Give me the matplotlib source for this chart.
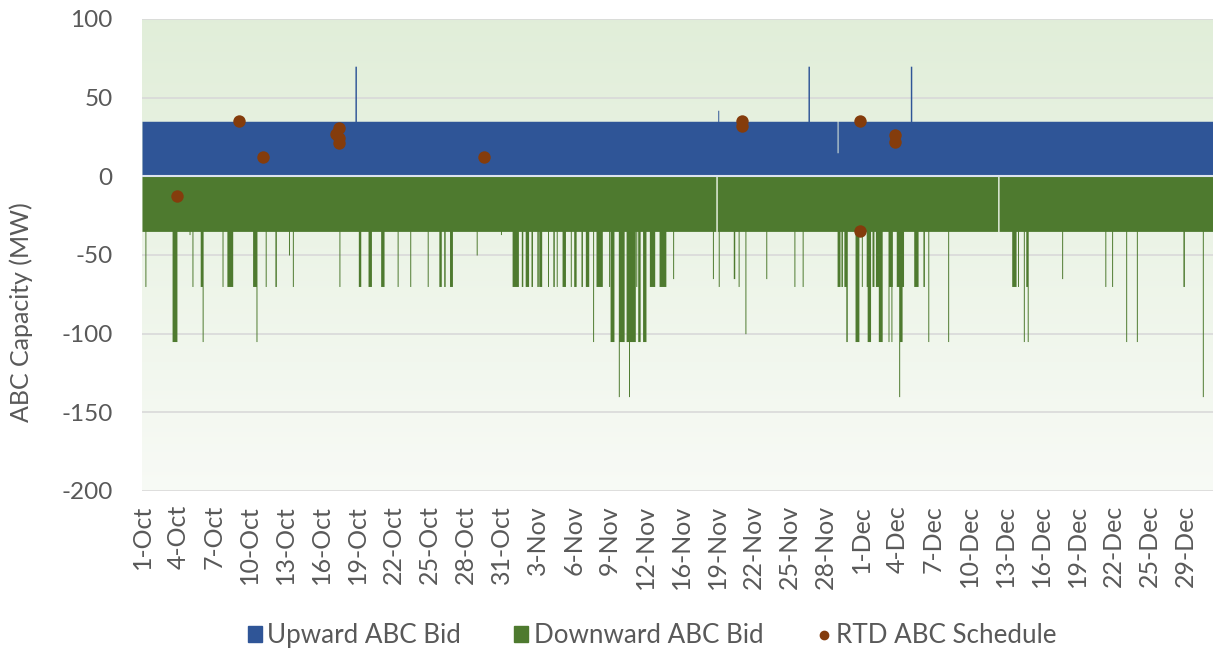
import numpy as np
import matplotlib.pyplot as plt
from matplotlib.patches import Patch
from matplotlib.lines import Line2D

plt.rcParams['font.family'] = ['Lato', 'DejaVu Sans']
plt.rcParams['axes.unicode_minus'] = False

# 数据：x 为自 10 月 1 日起的天数（小时分辨率）
N_DAYS = 92
BASE_UP = 35
BASE_DOWN = -35

tick_labels = ['1-Oct', '4-Oct', '7-Oct', '10-Oct', '13-Oct', '16-Oct', '19-Oct', '22-Oct',
               '25-Oct', '28-Oct', '31-Oct', '3-Nov', '6-Nov', '9-Nov', '12-Nov', '16-Nov',
               '19-Nov', '22-Nov', '25-Nov', '28-Nov', '1-Dec', '4-Dec', '7-Dec', '10-Dec',
               '13-Dec', '16-Dec', '19-Dec', '22-Dec', '25-Dec', '29-Dec']

# upward bid deviations from the 35 MW base
up_day = [18.3, 49.45, 57.2, 59.7, 66.0]
up_hours = [3, 2, 3, 2, 3]
up_mw = [70, 42, 70, 15, 70]

# hours with no downward bid
gap_day = [49.3, 73.5]
gap_hours = [3, 3]

# downward bid deviations from the -35 MW base
down_day = [0.26, 2.6, 4.05, 4.3, 4.98, 5.15, 6.87, 7.3, 9.5, 9.8, 10.6, 11.4, 12.57, 12.9,
            16.9, 18.6, 19.4, 20.5, 21.9, 23.0, 24.5, 25.5, 25.9, 26.4, 28.7, 30.8, 31.8,
            32.6, 32.9, 33.4, 33.9, 34.1, 34.85, 35.3, 35.6, 36.1, 36.8, 37.1, 37.7, 38.1,
            38.7, 39.0, 40.1, 40.2, 40.9, 41.0, 41.6, 41.8, 42.4, 42.6, 43.0, 43.6, 44.4,
            45.6, 49.0, 49.5, 50.8, 50.85, 51.2, 51.8, 53.6, 56.0, 56.7, 59.7, 60.05, 60.3,
            60.45, 61.25, 61.8, 62.2, 62.3, 62.7, 63.0, 63.25, 64.1, 64.1, 64.35, 64.8, 65.0,
            65.05, 66.3, 67.1, 67.5, 69.2, 74.7, 75.2, 75.7, 75.9, 76.05, 79.0, 82.7, 83.3,
            84.5, 85.4, 89.4, 91.1]
down_hours = [2, 10, 2, 2, 4, 2, 2, 12, 7, 2, 2, 3, 2, 2,
              2, 5, 7, 7, 2, 2, 2, 5, 3, 6, 2, 2, 13,
              3, 7, 3, 3, 6, 2, 3, 2, 7, 2, 5, 3, 7,
              2, 13, 2, 8, 2, 10, 19, 2, 2, 5, 7, 11, 14,
              2, 2, 2, 2, 2, 2, 2, 2, 2, 2, 6, 3, 7,
              3, 8, 2, 9, 7, 4, 14, 8, 9, 2, 2, 15, 2,
              6, 9, 3, 2, 2, 9, 2, 2, 4, 2, 2, 2, 2,
              2, 2, 3, 2]
down_mw = [-70, -105, -37, -70, -70, -105, -70, -70, -70, -105, -70, -70, -50, -70,
           -70, -70, -70, -70, -70, -70, -70, -70, -70, -70, -50, -37, -70,
           -70, -70, -70, -70, -70, -70, -70, -70, -70, -70, -70, -70, -70,
           -105, -70, -70, -105, -140, -105, -105, -140, -70, -105, -105, -70, -70,
           -65, -65, -70, -65, -65, -70, -100, -65, -70, -70, -70, -70, -70,
           -105, -105, -70, -70, -105, -70, -70, -105, -70, -105, -105, -70, -140,
           -105, -70, -70, -105, -105, -70, -70, -105, -70, -105, -65, -70, -70,
           -105, -105, -70, -140]

# RTD ABC schedule points
rtd_day = [2.98, 8.3, 10.4, 16.9, 16.67, 16.9, 16.9, 29.4, 51.5, 51.5, 61.7, 61.7, 64.7, 64.7]
rtd_mw = [-12.7, 35, 12, 31, 27, 24.5, 21.5, 12.3, 35, 32, 35, -35, 26, 22]

BLUE = '#2F5597'
GREEN = '#4E7A2F'
BROWN = '#843C0C'
TEXT = '#595959'


def hourly_series():
    """把基准值和偏差展开成逐小时序列"""
    n = N_DAYS * 24
    t = np.arange(n + 1) / 24
    up = np.full(n + 1, float(BASE_UP))
    down = np.full(n + 1, float(BASE_DOWN))
    for d, h, v in zip(up_day, up_hours, up_mw):
        i = int(round(d * 24))
        up[i:i + h] = v
    for d, h in zip(gap_day, gap_hours):
        i = int(round(d * 24))
        down[i:i + h] = 0
    for d, h, v in zip(down_day, down_hours, down_mw):
        i = int(round(d * 24))
        down[i:i + h] = np.minimum(down[i:i + h], v)
    return t, up, down


def main():
    t, up, down = hourly_series()

    fig = plt.figure(figsize=(12.13, 6.54), dpi=100)
    ax = fig.add_axes([142 / 1213, 1 - 491 / 654, 1071 / 1213, 472 / 654])

    # 渐变背景
    grad = np.linspace(0, 1, 256).reshape(-1, 1)
    top = np.array([0.882, 0.933, 0.851])
    bottom = np.array([0.972, 0.982, 0.964])
    img = top * (1 - grad[..., None]) + bottom * grad[..., None]
    ax.imshow(img, extent=[0, 1, 0, 1], transform=ax.transAxes, aspect='auto', zorder=0)

    ax.fill_between(t, 0, up, step='post', color=BLUE, lw=0, zorder=2)
    ax.fill_between(t, 0, down, step='post', color=GREEN, lw=0, zorder=2)
    ax.axhline(0, color='#DCE3EE', lw=1.5, zorder=3)
    ax.scatter(rtd_day, rtd_mw, s=80, color=BROWN, zorder=4, lw=0)

    ax.set_xlim(0, N_DAYS)
    ax.set_ylim(-200, 100)
    ax.set_yticks(range(-200, 101, 50))
    ax.set_xticks(np.arange(len(tick_labels)) * 3.09)
    ax.set_xticklabels(tick_labels, rotation=90)
    ax.tick_params(axis='y', length=0, pad=21, labelsize=17.5, labelcolor=TEXT)
    ax.tick_params(axis='x', length=0, pad=10, labelsize=18, labelcolor=TEXT)
    ax.set_axisbelow(True)
    ax.grid(axis='y', color='#D9D9D9', lw=1.2, zorder=1)
    for s in ax.spines.values():
        s.set_visible(False)

    ax.set_ylabel('ABC Capacity (MW)', fontsize=18, color=TEXT)
    ax.yaxis.set_label_coords(-0.102, 0.38)

    handles = [Patch(color=BLUE), Patch(color=GREEN),
               Line2D([], [], ls='', marker='o', color=BROWN, markersize=6)]
    fig.legend(handles, ['Upward ABC Bid', 'Downward ABC Bid', 'RTD ABC Schedule'],
               loc='center', bbox_to_anchor=(0.5375, 0.028), ncol=3, frameon=False,
               fontsize=18.7, labelcolor=TEXT, handlelength=0.55, handleheight=0.55,
               handletextpad=0.2, columnspacing=2.05)

    fig.savefig('out.png', dpi=100)


if __name__ == '__main__':
    main()
